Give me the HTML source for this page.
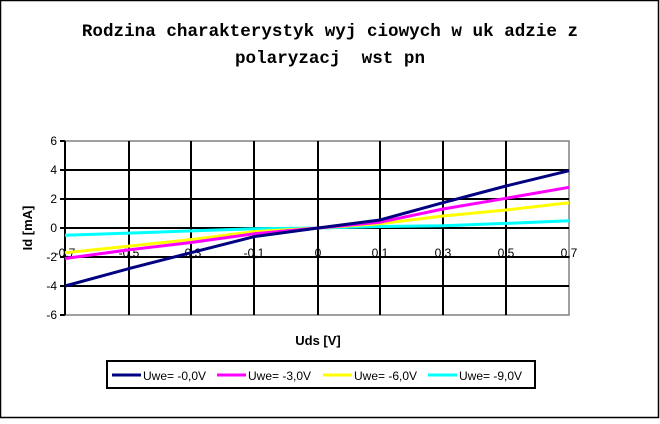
<!DOCTYPE html>
<html><head><style>html,body{margin:0;padding:0;background:#fff}</style></head><body>
<svg width="660" height="419" viewBox="0 0 660 419" xmlns="http://www.w3.org/2000/svg" font-family="Liberation Sans, sans-serif">
<rect x="0.5" y="0.5" width="658" height="417" fill="#fff" stroke="#000" stroke-width="1.5"/>
<g font-family="Liberation Mono, monospace" font-weight="bold" font-size="17.6" text-anchor="middle" fill="#000">
<text x="330" y="36" xml:space="preserve">Rodzina charakterystyk wyj ciowych w uk adzie z</text>
<text x="330" y="63" xml:space="preserve">polaryzacj  wst pn</text>
</g>
<rect x="65" y="141" width="504" height="174" fill="#fff" stroke="#808080" stroke-width="1.5"/>
<g stroke="#000" stroke-width="2">
<line x1="65" y1="170" x2="569" y2="170"/><line x1="65" y1="199" x2="569" y2="199"/>
<line x1="65" y1="228" x2="569" y2="228"/><line x1="65" y1="257" x2="569" y2="257"/>
<line x1="65" y1="286" x2="569" y2="286"/>
<line x1="129" y1="141" x2="129" y2="315"/><line x1="191" y1="141" x2="191" y2="315"/>
<line x1="254" y1="141" x2="254" y2="315"/><line x1="318" y1="141" x2="318" y2="315"/>
<line x1="380" y1="141" x2="380" y2="315"/><line x1="443" y1="141" x2="443" y2="315"/>
<line x1="506" y1="141" x2="506" y2="315"/>
<line x1="65" y1="141" x2="65" y2="315"/>
<line x1="60" y1="141" x2="65" y2="141"/><line x1="60" y1="170" x2="65" y2="170"/><line x1="60" y1="199" x2="65" y2="199"/><line x1="60" y1="228" x2="65" y2="228"/><line x1="60" y1="257" x2="65" y2="257"/><line x1="60" y1="286" x2="65" y2="286"/><line x1="60" y1="315" x2="65" y2="315"/>
</g>
<g font-size="12" text-anchor="end" fill="#000">
<text x="57" y="145">6</text><text x="57" y="174">4</text><text x="57" y="203">2</text><text x="57" y="232">0</text><text x="57" y="261">-2</text><text x="57" y="290">-4</text><text x="57" y="319">-6</text>
</g>
<g font-size="12" text-anchor="middle" fill="#000">
<text x="65" y="257">-0,7</text><text x="129" y="257">-0,5</text><text x="191" y="257">-0,3</text><text x="254" y="257">-0,1</text><text x="318" y="257">0</text><text x="380" y="257">0,1</text><text x="443" y="257">0,3</text><text x="506" y="257">0,5</text><text x="569" y="257">0,7</text>
</g>
<g fill="none" stroke-width="3" stroke-linejoin="round">
<polyline stroke="#00ffff" points="65,235.3 129,233.1 191,230.9 254,228.7 318,228 380,226.5 443,225.7 506,223.4 569,220.8"/>
<polyline stroke="#ffff00" points="65,252.7 129,246.1 191,239.6 254,231.6 318,228 380,223.7 443,216 506,210 569,202.7"/>
<polyline stroke="#ff00ff" points="65,258.5 129,249.8 191,242.5 254,233.8 318,228 380,222.2 443,209 506,198.3 569,187.3"/>
<polyline stroke="#000080" points="65,286 129,268.6 191,252.7 254,236.7 318,228 380,220 443,202.7 506,186 569,170.7"/>
</g>
<text x="32" y="228" font-size="13" font-weight="bold" text-anchor="middle" transform="rotate(-90 32 228)">Id [mA]</text>
<text x="318" y="345" font-size="13" font-weight="bold" text-anchor="middle">Uds [V]</text>
<rect x="107" y="361" width="428" height="27" fill="#fff" stroke="#000" stroke-width="2"/>
<g stroke-width="3">
<line x1="112" y1="375" x2="141" y2="375" stroke="#000080"/>
<line x1="217" y1="375" x2="246" y2="375" stroke="#ff00ff"/>
<line x1="323" y1="375" x2="352" y2="375" stroke="#ffff00"/>
<line x1="428" y1="375" x2="457" y2="375" stroke="#00ffff"/>
</g>
<g font-size="12" fill="#000">
<text x="143" y="380">Uwe= -0,0V</text><text x="248" y="380">Uwe= -3,0V</text><text x="354" y="380">Uwe= -6,0V</text><text x="459" y="380">Uwe= -9,0V</text>
</g>
</svg>
</body></html>
